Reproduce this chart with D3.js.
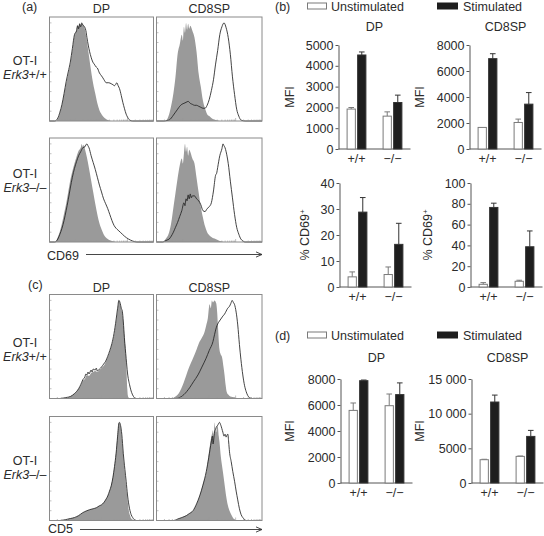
<!DOCTYPE html>
<html><head><meta charset="utf-8">
<script src="https://cdn.jsdelivr.net/npm/d3@7"></script>
<style>body{margin:0;background:#fff}svg{display:block;font-family:"Liberation Sans",Arial,Helvetica,sans-serif}</style>
</head><body><svg id="c" width="544" height="536"></svg>
<script>
// ================= DATA =================
const genotypes = ["+/+", "\u2212/\u2212"];
const conditions = ["Unstimulated", "Stimulated"];
const populations = ["DP", "CD8SP"];
const markers = ["CD69", "CD5"];
const rowGenotypeLabels = ["+/+", "\u2013/\u2013"];

// (b) CD69 MFI
const cd69MfiDpUnstim = [1920, 1580], cd69MfiDpUnstimErr = [75, 205];
const cd69MfiDpStim = [4520, 2235], cd69MfiDpStimErr = [145, 355];
const cd69MfiCd8Unstim = [1660, 2040], cd69MfiCd8UnstimErr = [0, 260];
const cd69MfiCd8Stim = [6950, 3450], cd69MfiCd8StimErr = [380, 890];
// (b) % CD69+
const cd69PctDpUnstim = [3.9, 4.8], cd69PctDpUnstimErr = [1.9, 2.9];
const cd69PctDpStim = [28.8, 16.4], cd69PctDpStimErr = [5.6, 8.1];
const cd69PctCd8Unstim = [2.6, 5.5], cd69PctCd8UnstimErr = [1.6, 1.0];
const cd69PctCd8Stim = [76.5, 38.7], cd69PctCd8StimErr = [4.1, 15.2];
// (d) CD5 MFI
const cd5MfiDpUnstim = [5585, 5946], cd5MfiDpUnstimErr = [570, 900];
const cd5MfiDpStim = [7870, 6800], cd5MfiDpStimErr = [50, 900];
const cd5MfiCd8Unstim = [3360, 3840], cd5MfiCd8UnstimErr = [60, 50];
const cd5MfiCd8Stim = [11680, 6720], cd5MfiCd8StimErr = [1000, 870];

// tick values
const ticksCd69MfiDp = [0, 1000, 2000, 3000, 4000, 5000];
const ticksCd69MfiCd8 = [0, 2000, 4000, 6000, 8000];
const ticksCd69PctDp = [0, 10, 20, 30, 40];
const ticksCd69PctCd8 = [0, 20, 40, 60, 80, 100];
const ticksCd5MfiDp = [0, 2000, 4000, 6000, 8000];
const ticksCd5MfiCd8 = [0, 5000, 10000, 15000];

// histograms: [channel (0-100), % of max]; Unstim = grey filled, Stim = line
const cd69WtDpUnstim = [[6,0],[8,2],[10,8],[12,16],[14,27],[16,38],[18,48],[20,58],[22,72],[24,87],[26,93],[27,98],[28,96],[29,100],[30,97],[31,99],[33,97],[35,88],[36,81],[38,66],[40,51],[42,38],[44,28],[46,18],[48,11],[50,7],[52,4],[56,1],[60,0]];
const cd69WtDpStim = [[5,0],[8,3],[10,9],[12,17],[14,28],[16,40],[18,50],[20,60],[22,74],[24,88],[26,92],[27,97],[28,94],[29,99],[30,96],[31,100],[32,98],[33,97],[35,92],[36,85],[38.5,71],[40,65],[41.7,60],[43,58],[44.9,55],[46,54],[48,49],[50,46],[51.3,44],[53,41],[54.5,39],[57,39],[59.3,38],[61,37],[62.5,36],[63.5,37],[64.7,39],[66,36],[67.3,33],[69,26],[70.5,19],[72,13],[73.7,7],[75,4],[77,1],[80,0]];
const cd69WtCd8Unstim = [[9,0],[12,7],[14,16],[16,28],[18,45],[20,68],[22,78],[24,88],[25,82],[26,96],[27,90],[28,100],[29,93],[30,99],[31,94],[32,97],[34,92],[36,85],[38,70],[40,48],[42,35],[44,21],[46,13],[48,7],[50,5],[52,3],[56,1],[60,0]];
const cd69WtCd8Stim = [[7,0],[10,0.5],[12,1],[14,3],[16,6],[18,9],[20,12],[22,15],[24,17],[26,18],[28,19],[30,20],[32,18],[34,17],[36,16],[38,16],[40,15],[42,14],[44,13],[46,13],[48,16],[50,22],[52,31],[54,42],[56,58],[58,72],[60,88],[62,96],[64,100],[66,95],[68,85],[70,68],[72,45],[74,27],[76,12],[78,5],[80,1],[84,0]];
const cd69KoDpUnstim = [[6,0],[8,5],[10,11],[12,19],[14,29],[16,39],[18,51],[20,63],[22,72],[24,80],[26,87],[28,93],[30,96],[31,100],[32,97],[33,99],[34,95],[36,86],[38,75],[40,63],[42,51],[44,39],[46,28],[48,19],[50,13],[52,8],[56,3],[60,1],[64,0]];
const cd69KoDpStim = [[5,0],[8,3],[10,8],[12,14],[14,22],[16,32],[18,43],[20,55],[22,66],[24,75],[26,82],[28,88],[30,92],[32,96],[34,97],[35,99],[36,100],[37,98],[38,96],[40,88],[42,81],[44,74],[46,66],[48,58],[50,51],[52,44],[54,39],[56,34],[58,28],[60,22],[62,17],[64,14],[66,12],[68,10],[70,8],[72,6],[76,3],[80,1],[84,0]];
const cd69KoCd8Unstim = [[7,0],[8,2],[10,5],[12,10],[14,20],[16,35],[18,50],[20,65],[22,78],[24,85],[25,80],[26,90],[27,100],[28,92],[29,97],[30,88],[31,94],[32,92],[34,85],[36,80],[38,65],[40,50],[42,36],[44,25],[46,16],[48,10],[50,7],[52,5],[56,3],[60,1],[64,0]];
const cd69KoCd8Stim = [[6,0],[8,1],[10,2],[12,3],[14,6],[16,10],[18,15],[20,20],[22,26],[24,32],[26,40],[27,37],[28,44],[29,42],[30,48],[31,44],[32,49],[33,45],[34,47],[36,47],[38,44],[40,42],[42,38],[44,32],[46,31],[48,34],[50,36],[52,40],[54,52],[56,68],[57,70],[58,76],[60,88],[62,95],[63,100],[64,98],[65,96],[66,92],[68,80],[70,62],[72,45],[74,28],[76,15],[78,8],[80,3],[84,0]];
const cd5WtDpUnstim = [[10,0],[16,1],[20,2],[24,5],[28,10],[30,13],[32,18],[34,20],[36,24],[38,23],[40,26],[42,27],[44,28],[46,27],[48,29],[50,31],[52,33],[54,37],[56,42],[58,48],[60,55],[62,64],[64,78],[65.5,90],[66.7,100],[68,96],[69,91],[70,87],[71,78],[72,65],[73,52],[74,30],[74.8,10],[75.5,2],[77,0]];
const cd5WtDpStim = [[10,0],[16,1],[20,2],[24,5],[28,10],[30,14],[32,19],[34,22],[35,25],[36,24],[37,27],[38,25],[40,29],[41,27],[42,30],[44,29],[45,31],[46,28],[48,30],[50,32],[52,35],[54,38],[56,43],[58,49],[60,56],[62,66],[64,80],[65.5,92],[66.7,100],[68,97],[69,92],[70,89],[71,78],[72,62],[73.7,41],[75,26],[77,14],[79,6],[80.8,2],[83,0]];
const cd5WtCd8Unstim = [[15,0],[18,2],[22,7],[25,14],[28.3,24],[31,32],[34.6,41],[38,50],[40.9,58],[43,62],[45.6,68],[47,74],[48.7,82],[50.3,96],[51.5,92],[52.5,100],[53.5,98],[55,100],[56.6,97],[57.5,88],[58.2,75],[59.7,50],[60.5,46],[62.3,41],[63.5,32],[64.5,24],[65.5,14],[66.5,7],[68,4],[70,2],[74,1],[78,0]];
const cd5WtCd8Stim = [[18,0],[22,1],[26,4],[31.4,11],[35,17],[39.3,24],[43,32],[47,41],[50,49],[53.5,58],[55,65],[56.6,72],[58,76],[59.7,79],[61,81],[62.9,84],[64.5,86],[66,89],[67.5,92],[69.2,94],[70.5,97],[71.7,100],[72.8,98],[73.9,96],[75.5,88],[77,75],[78.6,55],[80,40],[81.8,24],[83.5,13],[85,7],[86.5,3],[88,1],[91,0]];
const cd5KoDpUnstim = [[10,0],[16,1],[20,2],[24,3],[28,5],[32,8],[36,10],[38.5,11],[42,12],[45,13],[48,15],[50,16],[52,18],[54.5,22],[56,25],[57.7,30],[59.5,37],[61,45],[62.5,56],[64,70],[65.5,88],[66.7,100],[68,97],[69,90],[70,78],[71,65],[72.5,48],[73.7,35],[75,22],[76.3,10],[77.5,5],[78.5,2],[81.7,0]];
const cd5KoDpStim = [[10,0],[16,1],[20,2],[24,3],[28,5],[32,8],[36,10],[38.5,11],[42,12],[45,13],[48,15],[50,16],[52,18],[54.5,22],[56,25],[57.7,30],[59.5,36],[61,44],[62.5,55],[64,68],[65.5,86],[66.7,99],[67.3,100],[68.3,97],[69.5,88],[71,68],[72.5,52],[73.7,40],[75,26],[77,12],[78.5,6],[80,3],[83,0]];
const cd5KoCd8Unstim = [[17,0],[18.9,1],[24,3],[28.3,5],[31,7],[34.6,10],[38,17],[40.9,25],[44,37],[47.2,50],[49.5,68],[51.9,85],[53,90],[53.5,92],[54.2,86],[55,100],[55.8,92],[56.6,90],[57.4,97],[58.2,95],[59,86],[59.7,80],[61,65],[62.9,50],[64.5,37],[66,25],[67.5,16],[69.2,10],[70.8,6],[72.3,3],[74,1],[77,0]];
const cd5KoCd8Stim = [[17,0],[18.9,1],[24,3],[28.3,5],[31,7],[34.6,10],[38,17],[40.9,25],[44,36],[47.2,50],[49.5,64],[51.9,80],[53,86],[53.6,78],[55,90],[56,93],[56.6,95],[58,97],[59.7,100],[61,97],[62.9,90],[64,86],[65,88],[66,85],[66.8,87],[67.6,88],[68.4,80],[69.2,70],[70.8,60],[72.3,50],[74,40],[75.5,30],[77,21],[78.6,12],[80.2,6],[81.8,3],[83.5,1],[85,0]];

// ================= DRAWING =================
const svg = d3.select("#c");
const FS = 12.5, TXT = "#2b2b2b", AX = "#555";

function label(x, y, s, anchor = "middle", size = FS) {
  return svg.append("text").attr("x", x).attr("y", y).attr("text-anchor", anchor)
    .attr("font-size", size).attr("fill", TXT).text(s);
}

// ---- histograms ----
const histCols = [[49.5, 153.5], [156.5, 262]];
const histRows = [[17, 121], [138, 242], [294.5, 398.5], [416.5, 520.5]];
const histSets = [
  [[cd69WtDpUnstim, cd69WtDpStim], [cd69WtCd8Unstim, cd69WtCd8Stim]],
  [[cd69KoDpUnstim, cd69KoDpStim], [cd69KoCd8Unstim, cd69KoCd8Stim]],
  [[cd5WtDpUnstim, cd5WtDpStim], [cd5WtCd8Unstim, cd5WtCd8Stim]],
  [[cd5KoDpUnstim, cd5KoDpStim], [cd5KoCd8Unstim, cd5KoCd8Stim]]
];

function histogram(x0, x1, yT, yB, fillData, lineData) {
  const xs = d3.scaleLinear().domain([0, 100]).range([x0, x1]);
  const ys = d3.scaleLinear().domain([0, 106]).range([yB, yT]);
  const g = svg.append("g");
  g.append("path").datum(fillData)
    .attr("d", d3.area().x(d => xs(d[0])).y0(yB).y1(d => ys(d[1])).curve(d3.curveMonotoneX))
    .attr("fill", "#9a9a9a");
  const ld = [[0, 0], ...lineData, [100, 0]];
  g.append("path").datum(ld)
    .attr("d", d3.line().x(d => xs(d[0])).y(d => ys(d[1])).curve(d3.curveMonotoneX))
    .attr("fill", "none").attr("stroke", "#222").attr("stroke-width", 0.85);
  // minor ticks (left and bottom)
  d3.range(0, 101, 10).forEach(v => {
    g.append("line").attr("x1", x0).attr("x2", x0 + 2).attr("y1", ys(v)).attr("y2", ys(v))
      .attr("stroke", "#999").attr("stroke-width", 0.6);
  });
  for (let d = 0; d < 4; d++) for (let m = 1; m < 10; m++) {
    const p = 100 * (d + Math.log10(m)) / 4;
    g.append("line").attr("x1", xs(p)).attr("x2", xs(p)).attr("y1", yB).attr("y2", yB - (m === 1 ? 3 : 1.5))
      .attr("stroke", "#999").attr("stroke-width", 0.6);
  }
  g.append("rect").attr("x", x0).attr("y", yT).attr("width", x1 - x0).attr("height", yB - yT)
    .attr("fill", "none").attr("stroke", "#8a8a8a").attr("stroke-width", 1);
}

histRows.forEach((r, ri) => histCols.forEach((c, ci) => {
  histogram(c[0], c[1], r[0], r[1], histSets[ri][ci][0], histSets[ri][ci][1]);
}));

// panel labels & titles for histograms
label(22, 11, "(a)", "start");
label(28, 288.5, "(c)", "start");
[[12.5], [291.5]].forEach(([ty]) => {
  populations.forEach((p, i) => label((histCols[i][0] + histCols[i][1]) / 2, ty, p));
});
// row labels
const rowLabelY = [[65, 78.5], [178, 192], [347, 360.5], [465, 478.5]];
rowLabelY.forEach((yy, i) => {
  label(25, yy[0], "OT-I");
  const t = svg.append("text").attr("x", 25).attr("y", yy[1]).attr("text-anchor", "middle")
    .attr("font-size", FS).attr("fill", TXT);
  t.append("tspan").attr("font-style", "italic").text("Erk3");
  t.append("tspan").text(rowGenotypeLabels[i % 2]);
});
// marker axes with arrows
[[markers[0], 47, 259.5, 86, 254.5], [markers[1], 48, 533, 80, 529.5]].forEach(([m, tx, ty, ax0, ay]) => {
  label(tx, ty, m, "start");
  svg.append("line").attr("x1", ax0).attr("x2", 262).attr("y1", ay).attr("y2", ay)
    .attr("stroke", "#333").attr("stroke-width", 0.9);
  svg.append("path").attr("d", `M${256},${ay - 2.6}L262,${ay}L${256},${ay + 2.6}`)
    .attr("fill", "none").attr("stroke", "#333").attr("stroke-width", 0.9);
});

// ---- bar charts ----
const fmt = d => d >= 10000 ? d3.format(",")(d).replace(",", " ") : String(d);

function barChart(cfg) {
  const g = svg.append("g");
  const x = d3.scaleBand().domain(genotypes).range([cfg.x0, cfg.x0 + 72]).paddingInner(0.45).paddingOuter(0.225);
  const xs = d3.scaleBand().domain(conditions).range([0, x.bandwidth()]).paddingInner(0.12);
  const y = d3.scaleLinear().domain([0, cfg.max]).range([cfg.yB, cfg.yT]);
  const ax = g.append("g").attr("transform", `translate(${cfg.x0},0)`)
    .call(d3.axisLeft(y).tickValues(cfg.ticks).tickSize(3).tickSizeOuter(0).tickPadding(2).tickFormat(fmt));
  ax.select(".domain").attr("stroke", AX);
  ax.selectAll(".tick line").attr("stroke", AX);
  ax.selectAll(".tick text").attr("font-size", FS).attr("fill", TXT)
    .attr("font-family", '"Liberation Sans",Arial,sans-serif');
  g.append("line").attr("x1", cfg.x0).attr("x2", cfg.x0 + 72).attr("y1", cfg.yB).attr("y2", cfg.yB)
    .attr("stroke", AX).attr("stroke-width", 1);
  genotypes.forEach(gt => {
    g.append("text").attr("x", x(gt) + x.bandwidth() / 2).attr("y", cfg.yB + 14)
      .attr("text-anchor", "middle").attr("font-size", FS).attr("fill", TXT).text(gt);
  });
  const series = [[cfg.unstim, cfg.unstimErr, "#fff", "#7a7a7a"], [cfg.stim, cfg.stimErr, "#1e1e1e", "#333"]];
  series.forEach(([vals, errs, fill, stroke], si) => {
    vals.forEach((v, gi) => {
      const bx = x(genotypes[gi]) + xs(conditions[si]);
      const bw = xs.bandwidth();
      const cx = bx + bw / 2;
      if (errs[gi] > 0) {
        g.append("line").attr("x1", cx).attr("x2", cx).attr("y1", y(v)).attr("y2", y(v + errs[gi]))
          .attr("stroke", stroke).attr("stroke-width", 1);
        g.append("line").attr("x1", cx - 2.8).attr("x2", cx + 2.8).attr("y1", y(v + errs[gi])).attr("y2", y(v + errs[gi]))
          .attr("stroke", stroke).attr("stroke-width", 1);
      }
      g.append("rect").attr("x", bx + 0.5).attr("y", y(v)).attr("width", bw - 1).attr("height", cfg.yB - y(v))
        .attr("fill", fill).attr("stroke", stroke).attr("stroke-width", 1);
    });
  });
  if (cfg.title) label(cfg.x0 + 36, cfg.titleY, cfg.title);
  const ty = (cfg.yT + cfg.yB) / 2;
  const yl = svg.append("text").attr("transform", `translate(${cfg.ylabelX},${ty}) rotate(-90)`)
    .attr("text-anchor", "middle").attr("font-size", FS).attr("fill", TXT);
  yl.append("tspan").text(cfg.ylabel);
  if (cfg.sup) yl.append("tspan").attr("baseline-shift", "super").attr("font-size", 8).text(cfg.sup);
}

barChart({x0: 338.5, yT: 45, yB: 149, max: 5000, ticks: ticksCd69MfiDp, unstim: cd69MfiDpUnstim, unstimErr: cd69MfiDpUnstimErr,
  stim: cd69MfiDpStim, stimErr: cd69MfiDpStimErr, title: populations[0], titleY: 31, ylabel: "MFI", ylabelX: 294});
barChart({x0: 469.5, yT: 45, yB: 149, max: 8000, ticks: ticksCd69MfiCd8, unstim: cd69MfiCd8Unstim, unstimErr: cd69MfiCd8UnstimErr,
  stim: cd69MfiCd8Stim, stimErr: cd69MfiCd8StimErr, title: populations[1], titleY: 31, ylabel: "MFI", ylabelX: 424});
barChart({x0: 339.5, yT: 183, yB: 287, max: 40, ticks: ticksCd69PctDp, unstim: cd69PctDpUnstim, unstimErr: cd69PctDpUnstimErr,
  stim: cd69PctDpStim, stimErr: cd69PctDpStimErr, ylabel: "% CD69", sup: "+", ylabelX: 309});
barChart({x0: 470.5, yT: 183, yB: 287, max: 100, ticks: ticksCd69PctCd8, unstim: cd69PctCd8Unstim, unstimErr: cd69PctCd8UnstimErr,
  stim: cd69PctCd8Stim, stimErr: cd69PctCd8StimErr, ylabel: "% CD69", sup: "+", ylabelX: 432});
barChart({x0: 340.5, yT: 379, yB: 483, max: 8000, ticks: ticksCd5MfiDp, unstim: cd5MfiDpUnstim, unstimErr: cd5MfiDpUnstimErr,
  stim: cd5MfiDpStim, stimErr: cd5MfiDpStimErr, title: populations[0], titleY: 362, ylabel: "MFI", ylabelX: 294});
barChart({x0: 471.5, yT: 379, yB: 483, max: 15000, ticks: ticksCd5MfiCd8, unstim: cd5MfiCd8Unstim, unstimErr: cd5MfiCd8UnstimErr,
  stim: cd5MfiCd8Stim, stimErr: cd5MfiCd8StimErr, title: populations[1], titleY: 362, ylabel: "MFI", ylabelX: 424});

// legends
function legend(panel, py) {
  label(275, py, panel, "start");
  svg.append("rect").attr("x", 307.5).attr("y", py - 8).attr("width", 19).attr("height", 6)
    .attr("fill", "#fff").attr("stroke", "#7a7a7a").attr("stroke-width", 1);
  label(331, py, conditions[0], "start");
  svg.append("rect").attr("x", 437).attr("y", py - 8.5).attr("width", 21).attr("height", 7).attr("fill", "#1e1e1e");
  label(463, py, conditions[1], "start");
}
legend("(b)", 11);
legend("(d)", 340);
</script></body></html>
